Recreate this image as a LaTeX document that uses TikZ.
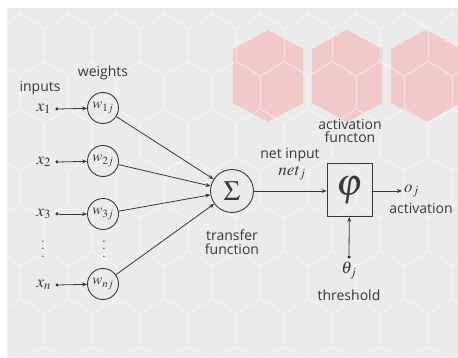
\documentclass[tikz,border=0pt]{standalone}
\usepackage{mathptmx}
\usepackage{fontspec}
\setsansfont{Open Sans}
\usetikzlibrary{arrows.meta, positioning}

\definecolor{bggray}{HTML}{EBEBEB}
\definecolor{hexpink}{HTML}{F2CACA}
\definecolor{ink}{HTML}{383838}

\begin{document}
\begin{tikzpicture}[x=1pt, y=-1pt,
    label/.style={font=\sffamily\fontsize{14}{13.5}\selectfont, text=ink, align=center, inner sep=1pt},
    mathlbl/.style={font=\fontsize{17}{19}\selectfont, text=ink, inner sep=1pt},
    dotcol/.style={font=\fontsize{17}{7.5}\selectfont, text=ink, align=center, inner sep=0pt},
    wcirc/.style={circle, draw=ink, line width=0.9pt, minimum size=31pt, inner sep=0pt, font=\fontsize{15}{17}\selectfont, text=ink},
    sumcirc/.style={circle, draw=ink, line width=0.9pt, minimum size=43pt, inner sep=0pt, font=\fontsize{28}{30}\selectfont, text=ink},
    phibox/.style={rectangle, draw=ink, line width=0.9pt, minimum width=45pt, minimum height=53pt, inner sep=0pt, font=\fontsize{38}{40}\selectfont, text=ink},
    dotnode/.style={circle, fill=ink, minimum size=3.5pt, inner sep=0pt},
    arrow/.style={-{Stealth[length=5pt, width=4pt]}, draw=ink, line width=0.8pt},
    gridline/.style={draw=white, line width=1.1pt, opacity=0.45}
  ]
    \useasboundingbox (0,0) rectangle (458,358);

    % background with honeycomb
    \begin{scope}
      \clip (7,8) rectangle (458,358);
      \fill[bggray] (7,8) rectangle (458,358);
      \foreach \hx in {268,347,426}
        \fill[hexpink] (\hx,30) -- (\hx+35,49) -- (\hx+35,103) -- (\hx,122)
          -- (\hx-35,103) -- (\hx-35,49) -- cycle;
      \draw[gridline]
        \foreach \row [evaluate={\row as \hy using -2.5+47.5*\row},
                       evaluate={\row as \hoff using 140.5+24*mod(\row,2)}] in {0,...,8} {
          \foreach \col [evaluate={\col as \hc using \hoff+48*\col}] in {-3,...,7} {
            (\hc,\hy-31) -- (\hc+24,\hy-16.5) -- (\hc+24,\hy+16.5) -- (\hc,\hy+31)
              -- (\hc-24,\hy+16.5) -- (\hc-24,\hy-16.5) -- cycle
          }
        };
    \end{scope}

    % weights
    \node[wcirc] (w1) at (103,108) {$w_{1j}$};
    \node[wcirc] (w2) at (103,161) {$w_{2j}$};
    \node[wcirc] (w3) at (103,214) {$w_{3j}$};
    \node[wcirc] (wn) at (103,284) {$w_{nj}$};
    \node[dotcol] (wdots) at (104,249) {.\\.\\.};

    % inputs
    \node[dotnode] (d1) at (57,109) {};
    \node[dotnode] (d2) at (57,162) {};
    \node[dotnode] (d3) at (57,214) {};
    \node[dotnode] (dn) at (57,285) {};
    \node[mathlbl, left=3pt of d1] (x1) {$x_1$};
    \node[mathlbl, left=3pt of d2] (x2) {$x_2$};
    \node[mathlbl, left=3pt of d3] (x3) {$x_3$};
    \node[mathlbl, left=3pt of dn] (xn) {$x_n$};
    \node[dotcol] (xdots) at (43,249) {.\\.\\.};

    \node[label] (inputs) at (40,88) {inputs};
    \node[label] (weights) at (103,73) {weights};

    % summation and activation
    \node[sumcirc] (sum) at (232,191) {$\Sigma$};
    \node[phibox] (act) at (349.5,190) {$\varphi$};
    \node[label] (transfer) at (232,242) {transfer\\function};
    \node[label] (actfn) at (350,131) {activation\\functon};
    \node[label] (netin) at (290,155) {net input};
    \node[mathlbl] (net) at (292,173) {$\mathit{net}_j$};

    % output and threshold
    \coordinate (out) at (402,191);
    \node[mathlbl, right=1pt of out] (oj) {$o_j$};
    \node[label] (actout) at (421,208) {activation};
    \node[dotnode] (th) at (349,257) {};
    \node[mathlbl, below=2pt of th] (theta) {$\theta_j$};
    \node[label] (thresh) at (349,295) {threshold};

    \draw[arrow] (d1) -- (w1);
    \draw[arrow] (d2) -- (w2);
    \draw[arrow] (d3) -- (w3);
    \draw[arrow] (dn) -- (wn);
    \draw[arrow] (w1) -- (sum);
    \draw[arrow] (w2) -- (sum);
    \draw[arrow] (w3) -- (sum);
    \draw[arrow] (wn) -- (sum);
    \draw[arrow] (sum) -- (act.west |- sum);
    \draw[arrow] (act.east |- sum) -- (out);
    \draw[arrow] (th) -- (act);
\end{tikzpicture}
\end{document}
